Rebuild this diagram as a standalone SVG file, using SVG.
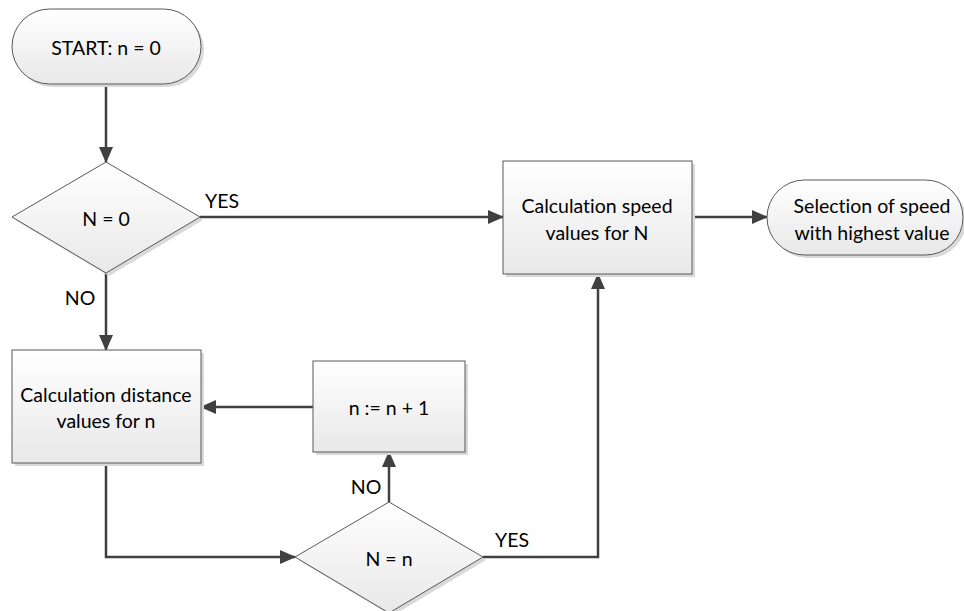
<svg xmlns="http://www.w3.org/2000/svg" width="964" height="611" viewBox="0 0 964 611">
<defs>
<linearGradient id="g" x1="0" y1="0" x2="0" y2="1">
<stop offset="0" stop-color="#ffffff"/>
<stop offset="1" stop-color="#e8e8e8"/>
</linearGradient>
<marker id="ah" markerWidth="16" markerHeight="16" viewBox="0 0 16 16" refX="15" refY="8" orient="auto" markerUnits="userSpaceOnUse">
<path d="M0,1 L16,8 L0,15 Z" fill="#404040"/>
</marker>
<style>
.n{fill:url(#g);stroke:#595959;stroke-width:1}
.s{fill:#d9d9d9;stroke:none}
.c{fill:none;stroke:#404040;stroke-width:2.5}
text{font-family:Lato,"Liberation Sans",sans-serif;font-size:19.5px;font-variant-ligatures:none;fill:#000;text-anchor:middle;dominant-baseline:central}
</style>
</defs>
<rect width="964" height="611" fill="#fff"/>
<g id="connectors">
<line class="c" x1="106" y1="84" x2="106" y2="162" marker-end="url(#ah)"/>
<line class="c" x1="200" y1="217" x2="503" y2="217" marker-end="url(#ah)"/>
<line class="c" x1="692" y1="217" x2="767" y2="217" marker-end="url(#ah)"/>
<line class="c" x1="106" y1="273" x2="106" y2="350" marker-end="url(#ah)"/>
<line class="c" x1="313" y1="407" x2="201" y2="407" marker-end="url(#ah)"/>
<polyline class="c" points="106,463 106,557 295,557" marker-end="url(#ah)"/>
<line class="c" x1="389" y1="502" x2="389" y2="452" marker-end="url(#ah)"/>
<polyline class="c" points="483,557 598,557 598,274" marker-end="url(#ah)"/>
<text x="222" y="200">YES</text>
<text x="80" y="297">NO</text>
<text x="366" y="486">NO</text>
<text x="512" y="539">YES</text>
</g>
<g id="start">
<rect class="s" x="15" y="12" width="189" height="75" rx="37.5"/>
<rect class="n" x="12" y="9" width="189" height="75" rx="37.5"/>
<text x="106" y="47">START: n = 0</text>
</g>
<g id="decision1">
<polygon class="s" points="109,165 203,220 109,276 15,220"/>
<polygon class="n" points="106,162 200,217 106,273 12,217"/>
<text x="106" y="218">N = 0</text>
</g>
<g id="speed">
<rect class="s" x="506" y="164" width="189" height="113"/>
<rect class="n" x="503" y="161" width="189" height="113"/>
<text x="597" y="205">Calculation speed</text>
<text x="597" y="232">values for N</text>
</g>
<g id="selection">
<rect class="s" x="770" y="183" width="196" height="75" rx="37.5"/>
<rect class="n" x="767" y="180" width="196" height="75" rx="37.5"/>
<text x="872" y="205">Selection of speed</text>
<text x="872" y="232">with highest value</text>
</g>
<g id="distance">
<rect class="s" x="15" y="353" width="189" height="113"/>
<rect class="n" x="12" y="350" width="189" height="113"/>
<text x="106" y="394">Calculation distance</text>
<text x="106" y="420">values for n</text>
</g>
<g id="increment">
<rect class="s" x="316" y="364" width="152" height="91"/>
<rect class="n" x="313" y="361" width="152" height="91"/>
<text x="389" y="407">n := n + 1</text>
</g>
<g id="decision2">
<polygon class="s" points="392,505 486,560 392,616 298,560"/>
<polygon class="n" points="389,502 483,557 389,613 295,557"/>
<text x="389" y="558">N = n</text>
</g>
</svg>
